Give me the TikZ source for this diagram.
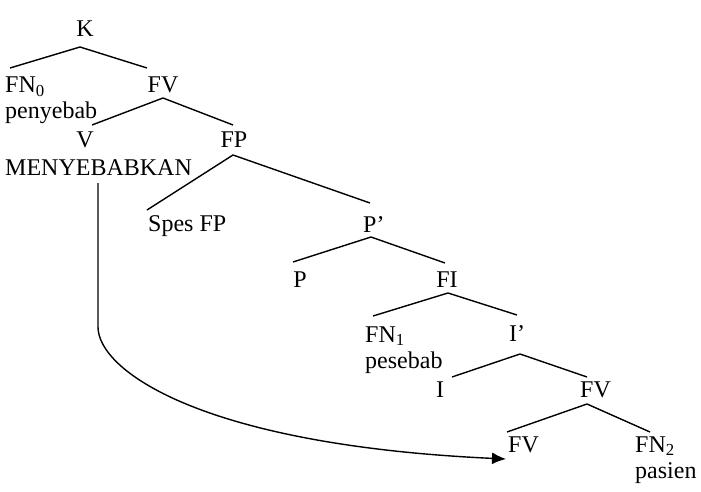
\documentclass[tikz,border=0pt]{standalone}
\usepackage{fontspec}
\setmainfont{Liberation Serif}
\usetikzlibrary{arrows.meta}
\begin{document}
\begin{tikzpicture}[x=1pt,y=-1pt,
  lbl/.style={inner sep=0pt,font=\fontsize{24}{27}\selectfont},
  lblc/.style={lbl,anchor=base},
  lbll/.style={lbl,anchor=base west},
  branch/.style={line width=1.4pt},
  mover/.style={line width=1.4pt,-{Latex[length=14pt,width=12pt]}}]
\useasboundingbox (0,0) rectangle (701,492);
% labels
\node[lblc] (K) at (85,37) {K};
\node[lbll] (FN0) at (5,93) {FN\textsubscript{0}};
\node[lblc] (FVa) at (163,93) {FV};
\node[lbll] (penyebab) at (5,119) {penyebab};
\node[lblc] (V) at (85,147) {V};
\node[lblc] (FP) at (234,147) {FP};
\node[lbll] (MEN) at (5,175) {MENYEBABKAN};
\node[lbll] (Spes) at (148,231) {Spes FP};
\node[lbll] (Pbar) at (363,232) {P’};
\node[lblc] (P) at (300,287) {P};
\node[lblc] (FI) at (447,287) {FI};
\node[lbll] (FN1) at (365,342) {FN\textsubscript{1}};
\node[lbll] (pesebab) at (365,368) {pesebab};
\node[lbll] (Ibar) at (509,341) {I’};
\node[lblc] (I) at (440,397) {I};
\node[lbll] (FVb) at (580,397) {FV};
\node[lbll] (FVc) at (508,452) {FV};
\node[lbll] (FN2) at (635,452) {FN\textsubscript{2}};
\node[lbll] (pasien) at (635,478) {pasien};
% branch points
\coordinate (K-t) at (80,47);  \coordinate (K-l) at (10,68);  \coordinate (K-r) at (147,68);
\coordinate (FVa-t) at (163,98); \coordinate (FVa-l) at (92,125); \coordinate (FVa-r) at (233,125);
\coordinate (FP-t) at (233,155); \coordinate (FP-l) at (147,210); \coordinate (FP-r) at (370,203);
\coordinate (Pb-t) at (371,237); \coordinate (Pb-l) at (293,262); \coordinate (Pb-r) at (445,263);
\coordinate (FI-t) at (448,293); \coordinate (FI-l) at (373,316); \coordinate (FI-r) at (517,315);
\coordinate (Ib-t) at (520,354); \coordinate (Ib-l) at (452,377); \coordinate (Ib-r) at (587,377);
\coordinate (FVb-t) at (587,404); \coordinate (FVb-l) at (507,432); \coordinate (FVb-r) at (650,432);
\draw[branch] (K-l) -- (K-t) -- (K-r);
\draw[branch] (FVa-l) -- (FVa-t) -- (FVa-r);
\draw[branch] (FP-l) -- (FP-t) -- (FP-r);
\draw[branch] (Pb-l) -- (Pb-t) -- (Pb-r);
\draw[branch] (FI-l) -- (FI-t) -- (FI-r);
\draw[branch] (Ib-l) -- (Ib-t) -- (Ib-r);
\draw[branch] (FVb-l) -- (FVb-t) -- (FVb-r);
% movement arrow
\coordinate (mv-start) at (98,183);
\coordinate (mv-bend) at (98,327);
\coordinate (mv-tip) at (506,459);
\draw[mover] (mv-start) -- (mv-bend) .. controls (98,370) and (200,445) .. (mv-tip);
\end{tikzpicture}
\end{document}
